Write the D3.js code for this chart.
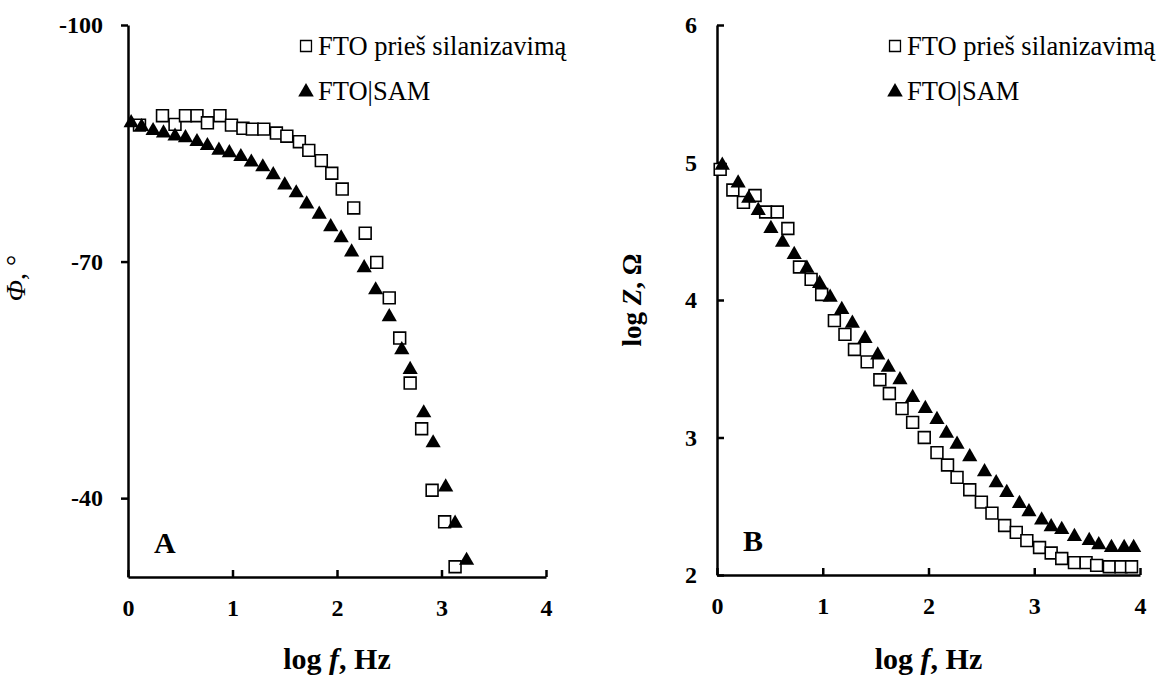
<!DOCTYPE html>
<html>
<head>
<meta charset="utf-8">
<script src="https://cdn.jsdelivr.net/npm/d3@7"></script>
<style>
  body { margin: 0; background: #fff; }
  text { font-family: "Liberation Serif", "Times New Roman", serif; }
</style>
</head>
<body>
<svg width="1165" height="677"></svg>
<script>
var svg = d3.select("svg"),
    width = +svg.attr("width"),
    height = +svg.attr("height");

var seriesNames = ["FTO prieš silanizavimą", "FTO|SAM"];
var xTicks = [0, 1, 2, 3, 4];
var phaseTicks = [-100, -70, -40];
var logZTicks = [2, 3, 4, 5, 6];

// A: phase angle vs log f
var phaseFtoX = [0.11, 0.33, 0.45, 0.55, 0.66, 0.76, 0.88, 0.99, 1.10, 1.19, 1.30, 1.42, 1.52, 1.64, 1.73, 1.85, 1.95, 2.05, 2.16, 2.27, 2.38, 2.50, 2.60, 2.70, 2.81, 2.91, 3.03, 3.13];
var phaseFtoY = [-87.3, -88.5, -87.4, -88.5, -88.5, -87.6, -88.5, -87.3, -86.9, -86.8, -86.8, -86.3, -85.9, -85.2, -84.1, -82.8, -81.2, -79.2, -76.8, -73.6, -69.9, -65.4, -60.3, -54.6, -48.8, -41.0, -37.0, -31.3];
var phaseSamX = [0.03, 0.13, 0.24, 0.34, 0.45, 0.55, 0.66, 0.76, 0.87, 0.97, 1.08, 1.18, 1.29, 1.39, 1.50, 1.61, 1.71, 1.83, 1.94, 2.04, 2.14, 2.26, 2.37, 2.50, 2.62, 2.70, 2.83, 2.92, 3.04, 3.13, 3.24];
var phaseSamY = [-87.6, -87.1, -86.6, -86.3, -85.9, -85.7, -85.2, -84.7, -84.1, -83.8, -83.3, -82.6, -82.0, -81.0, -79.7, -78.7, -77.3, -76.0, -74.4, -73.0, -71.2, -69.2, -66.4, -63.0, -58.8, -56.3, -50.8, -47.0, -41.4, -36.8, -32.1];

// B: log Z vs log f
var logZFtoX = [0.03, 0.15, 0.25, 0.36, 0.46, 0.57, 0.67, 0.78, 0.89, 0.99, 1.11, 1.21, 1.30, 1.42, 1.54, 1.63, 1.75, 1.85, 1.96, 2.08, 2.18, 2.27, 2.39, 2.50, 2.60, 2.72, 2.83, 2.93, 3.05, 3.16, 3.26, 3.38, 3.49, 3.59, 3.71, 3.82, 3.92];
var logZFtoY = [4.95, 4.80, 4.71, 4.76, 4.64, 4.64, 4.52, 4.24, 4.15, 4.04, 3.85, 3.75, 3.64, 3.55, 3.42, 3.32, 3.21, 3.11, 3.00, 2.89, 2.80, 2.71, 2.62, 2.53, 2.45, 2.36, 2.31, 2.25, 2.20, 2.16, 2.12, 2.09, 2.09, 2.07, 2.06, 2.06, 2.06];
var logZSamX = [0.05, 0.20, 0.30, 0.39, 0.51, 0.62, 0.73, 0.85, 0.97, 1.07, 1.18, 1.28, 1.40, 1.52, 1.62, 1.73, 1.85, 1.97, 2.08, 2.17, 2.27, 2.39, 2.53, 2.64, 2.74, 2.86, 2.95, 3.07, 3.16, 3.26, 3.38, 3.52, 3.61, 3.73, 3.85, 3.94];
var logZSamY = [4.98, 4.85, 4.74, 4.65, 4.52, 4.42, 4.33, 4.23, 4.12, 4.02, 3.93, 3.83, 3.72, 3.60, 3.51, 3.42, 3.29, 3.21, 3.13, 3.03, 2.95, 2.86, 2.75, 2.67, 2.60, 2.52, 2.46, 2.40, 2.35, 2.33, 2.28, 2.25, 2.22, 2.20, 2.20, 2.20];

function zip(xs, ys) {
  return xs.map((x, i) => ({x: x, y: ys[i]}));
}

var squarePath = d3.symbol().type(d3.symbolSquare).size(140)();
var trianglePath = d3.symbol().type(d3.symbolTriangle).size(100)();

var panels = [
  {
    x0: 128, x1: 546, y0: 25, y1: 577,
    yDomain: [-100, -30], yTicks: phaseTicks, yTickIn: false, letter: "A",
    fto: zip(phaseFtoX, phaseFtoY), sam: zip(phaseSamX, phaseSamY),
    yLabel: [{t: "Φ", s: "italic", w: "normal"}, {t: ", °", s: "normal", w: "normal"}], yLabelX: 25, yLabelY: 278, yLabelSize: 28
  },
  {
    x0: 717, x1: 1140, y0: 25, y1: 575,
    yDomain: [6, 2], yTicks: logZTicks, yTickIn: true, letter: "B",
    fto: zip(logZFtoX, logZFtoY), sam: zip(logZSamX, logZSamY),
    yLabel: [{t: "log ", s: "normal", w: "bold"}, {t: "Z", s: "italic", w: "bold"}, {t: ", Ω", s: "normal", w: "bold"}], yLabelX: 641, yLabelY: 300, yLabelSize: 27
  }
];

panels.forEach(function(p) {
  var x = d3.scaleLinear().domain([0, 4]).range([p.x0, p.x1]);
  var y = d3.scaleLinear().domain(p.yDomain).range([p.y0, p.y1]);
  var g = svg.append("g");

  var xAxis = g.append("g")
    .attr("transform", "translate(0," + p.y1 + ")")
    .call(d3.axisBottom(x).tickValues(xTicks).tickFormat(d => String(d))
      .tickSizeInner(-7).tickSizeOuter(0).tickPadding(22));

  var yAxis = g.append("g")
    .attr("transform", "translate(" + p.x0 + ",0)")
    .call(d3.axisLeft(y).tickValues(p.yTicks).tickFormat(d => String(d))
      .tickSizeInner(p.yTickIn ? -7 : 7).tickSizeOuter(0).tickPadding(p.yTickIn ? 20 : 18));

  [xAxis, yAxis].forEach(function(a) {
    a.select(".domain").attr("stroke", "#000").attr("stroke-width", 2.5);
    a.selectAll(".tick line").attr("stroke", "#000").attr("stroke-width", 2.5);
    a.selectAll(".tick text")
      .attr("fill", "#000")
      .style("font-family", "'Liberation Serif', serif")
      .style("font-size", "24px")
      .style("font-weight", "bold");
  });

  // x axis title
  var xt = g.append("text")
    .attr("x", (p.x0 + p.x1) / 2)
    .attr("y", 669)
    .attr("text-anchor", "middle")
    .style("font-size", "30px")
    .style("font-weight", "bold");
  xt.append("tspan").text("log ");
  xt.append("tspan").style("font-style", "italic").text("f");
  xt.append("tspan").text(", Hz");

  // y axis title
  var yt = g.append("text")
    .attr("transform", "translate(" + p.yLabelX + "," + p.yLabelY + ") rotate(-90)")
    .attr("text-anchor", "middle")
    .style("font-size", p.yLabelSize + "px");
  p.yLabel.forEach(function(part) {
    yt.append("tspan").style("font-style", part.s).style("font-weight", part.w).text(part.t);
  });

  // panel letter
  g.append("text")
    .attr("x", p.x0 + 26)
    .attr("y", p.y1 - 24)
    .style("font-size", "30px")
    .style("font-weight", "bold")
    .text(p.letter);

  // data
  g.selectAll(".sq").data(p.fto).enter()
    .append("path")
    .attr("d", squarePath)
    .attr("transform", d => "translate(" + x(d.x) + "," + y(d.y) + ")")
    .attr("fill", "#fff")
    .attr("stroke", "#000")
    .attr("stroke-width", 1.6);

  g.selectAll(".tri").data(p.sam).enter()
    .append("path")
    .attr("d", trianglePath)
    .attr("transform", d => "translate(" + x(d.x) + "," + y(d.y) + ")")
    .attr("fill", "#000");

  // legend
  var lx = p.x0 + 178;
  var lg = g.append("g");
  lg.append("path").attr("d", d3.symbol().type(d3.symbolSquare).size(120)())
    .attr("transform", "translate(" + lx + ",46)")
    .attr("fill", "#fff").attr("stroke", "#000").attr("stroke-width", 1.3);
  lg.append("text").attr("x", lx + 12).attr("y", 55).style("font-size", "26.5px").text(seriesNames[0]);
  lg.append("path").attr("d", d3.symbol().type(d3.symbolTriangle).size(105)())
    .attr("transform", "translate(" + lx + ",92)")
    .attr("fill", "#000");
  lg.append("text").attr("x", lx + 12).attr("y", 100).style("font-size", "26.5px").text(seriesNames[1]);
});
</script>
</body>
</html>
